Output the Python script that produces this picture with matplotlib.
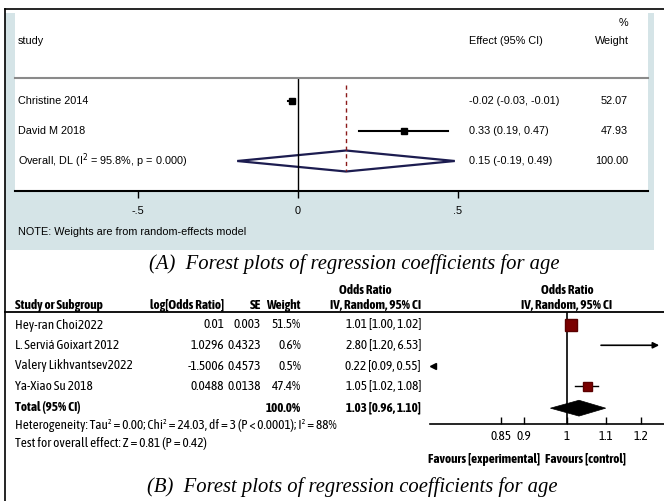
import numpy as np
import matplotlib
matplotlib.use("Agg")
import matplotlib.pyplot as plt
from matplotlib import font_manager
import matplotlib.patheffects as pe
from matplotlib.patches import Rectangle, Polygon

plt.rcParams['font.family'] = ['Liberation Sans', 'DejaVu Sans']

# ---- panel A data (Stata forest plot) ----
a_studies = ["Christine 2014", "David M 2018"]
a_est = [-0.02, 0.33]
a_lo = [-0.03, 0.19]
a_hi = [-0.01, 0.47]
a_weight = ["52.07", "47.93"]
a_overall = [0.15, -0.19, 0.49]   # est, lo, hi
a_ticks = [-0.5, 0, 0.5]
a_ticklabels = ["-.5", "0", ".5"]

# ---- panel B data (RevMan forest plot) ----
b_studies = ["Hey-ran Choi2022", "L. Serviá Goixart 2012", "Valery Likhvantsev2022", "Ya-Xiao Su 2018"]
b_logor = ["0.01", "1.0296", "-1.5006", "0.0488"]
b_se = ["0.003", "0.4323", "0.4573", "0.0138"]
b_weight = ["51.5%", "0.6%", "0.5%", "47.4%"]
b_or = [1.01, 2.80, 0.22, 1.05]
b_lo = [1.00, 1.20, 0.09, 1.02]
b_hi = [1.02, 6.53, 0.55, 1.08]
b_sq = [12, 0, 0, 9]       # box size in px
b_total = [1.03, 0.96, 1.10]
b_ticks = [0.85, 0.9, 1, 1.1, 1.2]
b_ticklabels = ["0.85", "0.9", "1", "1.1", "1.2"]


def wnum(w):
    if isinstance(w, str):
        return {"bold": 700, "semibold": 600, "demibold": 600, "heavy": 800, "black": 900}.get(w, 400)
    return w


# look for a narrow sans font (RevMan uses Arial Narrow), ideally with a bold face
cands = {}
for f in font_manager.fontManager.ttflist:
    nm = f.name.lower()
    if "narrow" in nm or "condensed" in nm:
        cands.setdefault(f.name, []).append(wnum(f.weight))
narrow, has_bold = None, False
for name, ws in cands.items():
    if "liberation" in name.lower() and "narrow" in name.lower():
        narrow, has_bold = name, max(ws) >= 600
if narrow is None:
    for name, ws in cands.items():
        if max(ws) >= 600 and min(ws) <= 400:
            narrow, has_bold = name, True
            break
if narrow is None and cands:
    narrow = list(cands)[0]
    has_bold = max(cands[narrow]) >= 600

if narrow is not None:
    nf = [narrow, "Liberation Sans", "DejaVu Sans"]
    fsB = 9.5
else:
    nf = ["Liberation Sans", "DejaVu Sans"]
    fsB = 8.3
# fake bold if the narrow face has no bold weight
bold_kw = dict(weight="bold")
if narrow is not None and not has_bold:
    bold_kw = dict(path_effects=[pe.withStroke(linewidth=0.7, foreground="black")])

W, H = 664, 501
fig = plt.figure(figsize=(W / 100, H / 100), dpi=100)
fig.patch.set_facecolor("white")

# overlay axes in pixel coords for text / frames
ov = fig.add_axes([0, 0, 1, 1])
ov.set_xlim(0, W)
ov.set_ylim(H, 0)
ov.axis("off")


def fax(x0, y0, x1, y1):
    # axes from pixel box
    return fig.add_axes([x0 / W, (H - y1) / H, (x1 - x0) / W, (y1 - y0) / H])


# outer frame
ov.plot([5, 5], [9, H], color="black", lw=1.2)
ov.plot([5, W], [9, 9], color="black", lw=1.2)

# ================= panel A =================
ov.add_patch(Rectangle((5, 13), 649, 237, color="#d5e4e7", lw=0))
ov.add_patch(Rectangle((15, 13), 633, 178, color="white", lw=0))

fsA = 7.8
ov.text(18, 41, "study", fontsize=fsA, va="center")
ov.text(469, 41, "Effect (95% CI)", fontsize=fsA, va="center")
ov.text(628, 23, "%", fontsize=fsA, va="center", ha="right")
ov.text(629, 41, "Weight", fontsize=fsA, va="center", ha="right")

rowsA = [101, 131, 161]
for i, s in enumerate(a_studies):
    ov.text(18, rowsA[i], s, fontsize=fsA, va="center")
    ov.text(469, rowsA[i], "%.2f (%.2f, %.2f)" % (a_est[i], a_lo[i], a_hi[i]), fontsize=fsA, va="center")
    ov.text(628, rowsA[i], a_weight[i], fontsize=fsA, va="center", ha="right")
ov.text(18, rowsA[2], r"Overall, DL (I$^2$ = 95.8%, p = 0.000)", fontsize=fsA, va="center")
ov.text(469, rowsA[2], "%.2f (%.2f, %.2f)" % tuple(a_overall), fontsize=fsA, va="center")
ov.text(628, rowsA[2], "100.00", fontsize=fsA, va="center", ha="right")
ov.text(18, 232, "NOTE: Weights are from random-effects model", fontsize=fsA, va="center")

axA = fax(15, 78, 648, 191)
axA.patch.set_alpha(0)
axA.set_xlim((15 - 298) / 320, (648 - 298) / 320)
axA.set_ylim(3.0, -0.767)
for sp in ["left", "right"]:
    axA.spines[sp].set_visible(False)
axA.spines["top"].set_color("#8a8a8a")
axA.spines["top"].set_linewidth(1.5)
axA.spines["bottom"].set_linewidth(1.5)
axA.set_yticks([])
axA.set_xticks(a_ticks)
axA.set_xticklabels(a_ticklabels, fontsize=fsA)
axA.tick_params(axis="x", direction="out", length=5, width=1, pad=6)
axA.axvline(0, color="black", lw=1)
for i in range(len(a_studies)):
    axA.plot([a_lo[i], a_hi[i]], [i, i], color="black", lw=1.5)
    axA.plot(a_est[i], i, marker="s", ms=4, color="black")
axA.plot([a_overall[0]] * 2, [-0.55, 2.33], color="#8b1a1a", lw=1, ls=(0, (3, 2.5)))
e, lo, hi = a_overall
axA.add_patch(Polygon([[lo, 2], [e, 2 - 0.35], [hi, 2], [e, 2 + 0.35]], closed=True,
                      facecolor="none", edgecolor="#1c1c50", lw=1.6))

ov.text(354, 264, "(A)  Forest plots of regression coefficients for age", fontsize=14.9,
        family="Liberation Serif", style="italic", ha="center", va="center")

# ================= panel B =================
cLog, cSE, cW, cCI = 224, 261, 301, 421
ov.plot([5, W], [312, 312], color="black", lw=1.3)
ov.text(15, 309, "Study or Subgroup", fontsize=fsB, family=nf, va="baseline", **bold_kw)
ov.text(cLog, 309, "log[Odds Ratio]", fontsize=fsB, family=nf, va="baseline", ha="right", **bold_kw)
ov.text(cSE, 309, "SE", fontsize=fsB, family=nf, va="baseline", ha="right", **bold_kw)
ov.text(cW, 309, "Weight", fontsize=fsB, family=nf, va="baseline", ha="right", **bold_kw)
ov.text(365, 294, "Odds Ratio", fontsize=fsB, family=nf, va="baseline", ha="center", **bold_kw)
ov.text(cCI, 309, "IV, Random, 95% CI", fontsize=fsB, family=nf, va="baseline", ha="right", **bold_kw)
ov.text(567, 294, "Odds Ratio", fontsize=fsB, family=nf, va="baseline", ha="center", **bold_kw)
ov.text(567, 309, "IV, Random, 95% CI", fontsize=fsB, family=nf, va="baseline", ha="center", **bold_kw)

rowsB = [325, 345.5, 366, 386.5]
for i, s in enumerate(b_studies):
    y = rowsB[i]
    ov.text(15, y, s, fontsize=fsB, family=nf, va="center")
    ov.text(cLog, y, b_logor[i], fontsize=fsB, family=nf, va="center", ha="right")
    ov.text(cSE, y, b_se[i], fontsize=fsB, family=nf, va="center", ha="right")
    ov.text(cW, y, b_weight[i], fontsize=fsB, family=nf, va="center", ha="right")
    ov.text(cCI, y, "%.2f [%.2f, %.2f]" % (b_or[i], b_lo[i], b_hi[i]), fontsize=fsB, family=nf,
            va="center", ha="right")
ov.text(15, 408, "Total (95% CI)", fontsize=fsB, family=nf, va="center", **bold_kw)
ov.text(cW, 408, "100.0%", fontsize=fsB, family=nf, va="center", ha="right", **bold_kw)
ov.text(cCI, 408, "%.2f [%.2f, %.2f]" % tuple(b_total), fontsize=fsB, family=nf,
        va="center", ha="right", **bold_kw)
ov.text(15, 425, "Heterogeneity: Tau² = 0.00; Chi² = 24.03, df = 3 (P < 0.0001); I² = 88%",
        fontsize=fsB, family=nf, va="center")
ov.text(15, 443, "Test for overall effect: Z = 0.81 (P = 0.42)", fontsize=fsB, family=nf, va="center")

axB = fax(430, 312, 664, 424)
axB.patch.set_alpha(0)
axB.set_xscale("log")
axB.set_xlim(np.exp((430 - 567) / 406), np.exp((664 - 567) / 406))
axB.set_ylim(4.88, -0.64)
for sp in ["left", "right", "top"]:
    axB.spines[sp].set_visible(False)
axB.spines["bottom"].set_linewidth(1.2)
axB.set_yticks([])
axB.set_xticks(b_ticks)
axB.set_xticklabels(b_ticklabels, fontsize=fsB, family=nf)
axB.minorticks_off()
axB.tick_params(axis="x", direction="in", length=5, width=1, pad=4)
axB.axvline(1, color="black", lw=1.2)
xl, xr = axB.get_xlim()
for i in range(len(b_studies)):
    lo, hi = b_lo[i], b_hi[i]
    if b_or[i] > xr:
        # off the scale to the right: arrow
        axB.annotate("", xy=(xr * 0.995, i), xytext=(1.08, i),
                     arrowprops=dict(arrowstyle="-|>", color="black", lw=1.2, mutation_scale=9))
    elif b_or[i] < xl:
        axB.plot(xl * 1.008, i, marker="<", ms=4, color="black")
    else:
        axB.plot([lo, hi], [i, i], color="black", lw=1)
        axB.plot(b_or[i], i, marker="s", ms=b_sq[i] * 0.72, color="#7a0000", mec="#5a0000")
e, lo, hi = b_total
ty = 4.1
axB.add_patch(Polygon([[lo, ty], [e, ty - 0.39], [hi, ty], [e, ty + 0.39]], closed=True,
                      facecolor="black", edgecolor="black", lw=0.5))
ov.text(540, 459, "Favours [experimental]", fontsize=fsB, family=nf, va="center", ha="right", **bold_kw)
ov.text(545, 459, "Favours [control]", fontsize=fsB, family=nf, va="center", ha="left", **bold_kw)

ov.text(352, 487, "(B)  Forest plots of regression coefficients for age", fontsize=14.9,
        family="Liberation Serif", style="italic", ha="center", va="center")

fig.savefig("out.png", dpi=100)
